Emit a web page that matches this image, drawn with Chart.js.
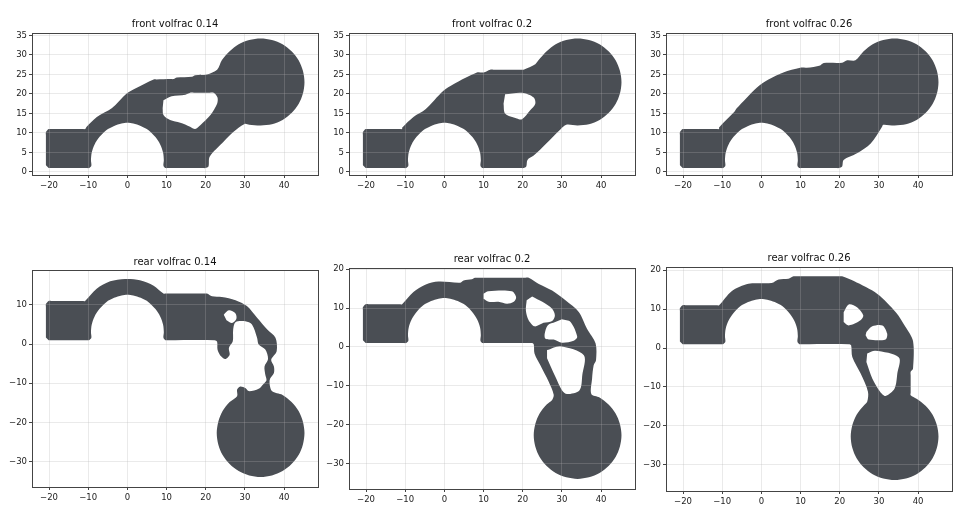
<!DOCTYPE html>
<html>
<head>
<meta charset="utf-8">
<title>volfrac</title>
<script src="https://cdn.jsdelivr.net/npm/chart.js@4"></script>
<style>
  html, body { margin: 0; background: #fff; }
  #wrap { position: relative; width: 960px; height: 521px; overflow: hidden; }
  canvas { position: absolute; }
</style>
</head>
<body>
<div id="wrap"></div>
<script>
const xTicks = [-20, -10, 0, 10, 20, 30, 40];
const frontYTicks = [0, 5, 10, 15, 20, 25, 30, 35];
const rear14YTicks = [-30, -20, -10, 0, 10];
const rearYTicks = [-30, -20, -10, 0, 10, 20];

// pieces every outline shares
const bracket = [[-20.8,1.7],[-20.8,2.3],[-20.8,9.5],[-20.8,10.2],[-20.1,11],[-19.4,11],[-11.5,11],[-10.8,11]];
const archAndBase = [[10.4,1],[9.7,1],[9.2,1.6],[9.3,3],[9.1,5],[8.4,7],[7.1,9],[5.4,10.7],[3.4,11.8],[1.5,12.4],[0,12.6],[-1.5,12.4],[-3.4,11.8],[-5.4,10.7],[-7.1,9],[-8.4,7],[-9.1,5],[-9.3,3],[-9.2,1.6],[-9.8,1],[-10.5,1],[-19.5,1],[-20.1,1]];
const frontCircle = [[26.1,30.9],[28.4,32.7],[31.1,33.8],[34,34.2],[36.9,33.8],[39.6,32.7],[41.9,30.9],[43.7,28.6],[44.8,25.9],[45.2,23],[44.8,20.1],[43.7,17.4],[41.9,15.1],[39.6,13.3],[36.9,12.2],[34,11.9],[31.1,12.1]];
const rearCircle = [[39.6,-13],[41.9,-14.8],[43.7,-17.1],[44.8,-19.8],[45.2,-22.7],[44.8,-25.6],[43.7,-28.3],[41.9,-30.6],[39.6,-32.4],[36.9,-33.5],[34,-33.9],[31.1,-33.5],[28.4,-32.4],[26.1,-30.6],[24.3,-28.3],[23.2,-25.6],[22.8,-22.7],[23.2,-19.8],[24.3,-17.1],[26.1,-14.8]];

// front 0.14
const front14Top = [[-10.4,11.6],[-7.8,14.1],[-4,16.3],[-0.2,20.1],[2.4,21.6],[6.7,23.7],[7.4,23.7],[11.2,23.8],[11.8,23.8],[12.6,24.2],[16.5,24.4],[17.3,24.8],[20.3,25],[22.9,26.2],[24.1,28.6]];
const front14Bottom = [[29.9,12.3],[27.1,10.3],[24.6,7.8],[21,3.9],[20.7,1.4],[19.9,1],[19.2,1]];
const front14Hole = [[9.2,18.4],[11.3,19.4],[14.8,19.8],[16,20.3],[17,20.3],[21,20.3],[22,20.3],[23,19.1],[22.9,17.5],[21.2,14.6],[18.6,12],[17.3,11],[16,11.6],[13.5,12.6],[10.9,13.3],[9.2,14.6],[9,16.3]];

// front 0.2
const front20Top = [[-10.75,11.4],[-7.9,14.1],[-4.9,16],[-0.25,20.8],[2.3,22.5],[8.3,25.5],[10,25.5],[11.7,26.2],[12.5,26.2],[19.4,26.2],[20.2,26.2],[23.2,27.6],[24,28.6]];
const front20Bottom = [[29.6,10.9],[26,7.3],[22.8,4.2],[21.2,3.1],[20.9,1.4],[20.2,1],[19.5,1]];
const front20Hole = [[15.5,19.9],[19.8,20.3],[22.8,19.1],[23.2,17.5],[21.9,15.8],[19.8,13.5],[18.5,13.7],[15.5,15],[15.1,17.5]];

// front 0.26
const front26Top = [[-10.8,11.4],[-6.9,15.4],[-6.3,16.3],[-1.2,21.6],[1.8,23.7],[5.6,25.5],[9.9,26.7],[11.6,26.7],[15,27.3],[15.9,27.9],[20.6,28],[21.9,28.6],[24,28.6]];
const front26Bottom = [[30.8,11.6],[27.9,7.3],[24.4,4.8],[21,3.1],[20.6,1.4],[19.8,1],[19.1,1]];

// rear 0.14
const rear14Top = [[-7.85,14.1],[-4.4,16],[-0.6,16.6],[3.2,16.3],[6.7,14.9],[9.2,12.9],[9.9,12.9],[19.6,12.9],[20.3,12.9],[21.6,12.2],[24.1,12],[27.6,11.2],[30.5,9.7],[33.1,6.7],[35.7,3.7],[37.8,1.6],[38.1,-1.8],[36.7,-4],[37.4,-5.7],[37.4,-7.4],[36.3,-9.2],[36.9,-12]];
const rear14Bottom = [[28,-13.3],[28,-11.6],[28.8,-10.8],[30.1,-11.2],[31,-12],[33.5,-11.4],[34.8,-10.1],[35.5,-9.2],[35.2,-7.8],[35,-5.7],[35.9,-3.8],[35.2,-1.4],[33.5,-0.1],[33.1,1.6],[31.8,5],[30.1,5.8],[27.6,5.6],[27,3.7],[26.9,0.7],[25.9,-1],[26.1,-2.7],[25,-3.8],[23.7,-2.9],[23,-1.4],[22.9,0.6],[22.3,1]];
const rear14Hole = [[24.6,7.5],[25.9,8.6],[27.6,7.8],[27.8,6.4],[26.7,5.4],[25.3,6.1]];

// rear 0.2
const rear20Top = [[-7.9,14.1],[-4.9,16],[-1.5,16.8],[4,16.5],[4.9,17.1],[7,17.4],[7.8,17.8],[8.6,17.8],[20.7,17.8],[21.5,17.8],[24.1,16.2],[27.5,14.5],[30.9,12],[34.3,9],[36.4,4.7],[38.6,0.9],[38.7,-3.4],[38.1,-4.7],[37.7,-8.1],[37.5,-12.1]];
const rear20Bottom = [[27.5,-13.6],[27.9,-12.3],[26.6,-8.9],[24.5,-4.7],[23,-1.7],[22.8,0.7],[22.2,1]];
const rear20HoleA = [[10,13.7],[11.2,14.3],[17.2,14.3],[18.3,12.8],[17.7,11.6],[16,11.1],[13.8,11.6],[11.3,11.6],[10,12.4]];
const rear20HoleB = [[22.4,13],[25,11.6],[27.5,9.8],[28.2,8.1],[27.5,6.7],[25.3,6.2],[23.1,5.3],[21.5,6.9],[20.8,9.4],[21,12]];
const rear20HoleC = [[30,7.1],[32.2,6.4],[33.9,2.6],[33,1.6],[30,1.1],[27.9,1.9],[25.8,2.1],[25.6,3.4],[26.4,5.6],[28.3,6.4]];
const rear20HoleD = [[26.2,-0.8],[29.6,0.2],[35.6,-2.1],[35.2,-7.2],[34.5,-11.1],[31.3,-12.1],[30,-11.1],[28.3,-7.6],[26.2,-2.9]];

// rear 0.26
const rear26Top = [[-7.6,14.6],[-3.3,16.5],[2.6,16.7],[4.4,17.6],[6.9,17.8],[8.2,18.4],[9,18.4],[19.8,18.4],[20.6,18.4],[23.6,17.2],[29.6,13.9],[34.3,9.2],[36.8,5.4],[38.7,1.8],[38.7,-5.3],[38.1,-6.1],[38.1,-7],[38.1,-11.4],[38.1,-12.1]];
const rear26Bottom = [[27,-13.8],[27.2,-11.2],[25.3,-6.5],[23.2,-2.3],[22.9,0.7],[22.3,1]];
const rear26HoleA = [[21,9.2],[22.3,11.2],[24.4,10.5],[26,8.4],[25.3,7.1],[22.3,5.8],[21,6.7]];
const rear26HoleB = [[26.8,4.1],[28.3,5.6],[30.9,5.8],[32.1,3.7],[31.7,2.2],[27.4,2.2],[26.6,3.3]];
const rear26HoleC = [[27,-1.4],[29.1,-0.7],[35.1,-2.4],[34.7,-6.5],[34,-10.4],[31.7,-12.3],[30.3,-11.2],[28.3,-7.8],[26.8,-3.6]];

const solid = "#4a4e54";
const gridColor = "rgba(176,176,176,0.27)";
const textColor = "#222";

const panels = [
  { title: "front volfrac 0.14", titleTop: 5.6, left: 32, top: 33, h: 142, yMin: -0.77, yMax: 35.6, yTicks: frontYTicks,
    outline: [...bracket, ...front14Top, ...frontCircle, ...front14Bottom, ...archAndBase], holes: [front14Hole] },
  { title: "front volfrac 0.2", titleTop: 5.6, left: 349, top: 33, h: 142, yMin: -0.77, yMax: 35.6, yTicks: frontYTicks,
    outline: [...bracket, ...front20Top, ...frontCircle, ...front20Bottom, ...archAndBase], holes: [front20Hole] },
  { title: "front volfrac 0.26", titleTop: 5.6, left: 666, top: 33, h: 142, yMin: -0.77, yMax: 35.6, yTicks: frontYTicks,
    outline: [...bracket, ...front26Top, ...frontCircle, ...front26Bottom, ...archAndBase], holes: [] },
  { title: "rear volfrac 0.14", titleTop: 6.6, left: 32, top: 270, h: 217, yMin: -36.46, yMax: 18.9, yTicks: rear14YTicks,
    outline: [...bracket, ...rear14Top, ...rearCircle, ...rear14Bottom, ...archAndBase], holes: [rear14Hole] },
  { title: "rear volfrac 0.2", titleTop: 5.6, left: 349, top: 268, h: 221, yMin: -36.5, yMax: 20.3, yTicks: rearYTicks,
    outline: [...bracket, ...rear20Top, ...rearCircle, ...rear20Bottom, ...archAndBase], holes: [rear20HoleA, rear20HoleB, rear20HoleC, rear20HoleD] },
  { title: "rear volfrac 0.26", titleTop: 5.6, left: 666, top: 267, h: 224, yMin: -36.7, yMax: 20.8, yTicks: rearYTicks,
    outline: [...bracket, ...rear26Top, ...rearCircle, ...rear26Bottom, ...archAndBase], holes: [rear26HoleA, rear26HoleB, rear26HoleC] }
];

const frame = {
  id: "frame",
  afterDraw(chart) {
    const a = chart.chartArea;
    const ctx = chart.ctx;
    ctx.save();
    ctx.strokeStyle = "#444";
    ctx.lineWidth = 1;
    ctx.strokeRect(Math.round(a.left) + 0.5, Math.round(a.top) + 0.5, Math.round(a.width), Math.round(a.height));
    ctx.restore();
  }
};

function shape(points, color, order) {
  return {
    data: points.map(p => ({ x: p[0], y: p[1] })),
    showLine: true,
    fill: "shape",
    backgroundColor: color,
    borderWidth: 0,
    pointRadius: 0,
    tension: 0.3,
    order: order
  };
}

function label(v) {
  return v < 0 ? "\u2212" + Math.abs(v) : String(v);
}

panels.forEach(p => {
  const canvas = document.createElement("canvas");
  canvas.width = 324;
  canvas.height = p.h + 20 + 22;
  canvas.style.left = (p.left - 32) + "px";
  canvas.style.top = (p.top - 20) + "px";
  document.getElementById("wrap").appendChild(canvas);

  new Chart(canvas, {
    type: "scatter",
    data: {
      datasets: [
        ...p.holes.map(h => shape(h, "#fff", 0)),
        shape(p.outline, solid, 1)
      ]
    },
    options: {
      responsive: false,
      animation: false,
      layout: { padding: { left: 0, right: 6, top: 0, bottom: 0 } },
      plugins: {
        legend: { display: false },
        tooltip: { enabled: false },
        title: {
          display: true,
          text: p.title,
          fullSize: false,
          color: "#111",
          font: { family: "DejaVu Sans", size: 10, weight: "normal" },
          padding: { top: p.titleTop, bottom: 8 - p.titleTop }
        }
      },
      scales: {
        x: {
          type: "linear",
          min: -24.35,
          max: 48.65,
          afterBuildTicks: s => { s.ticks = xTicks.map(v => ({ value: v })); },
          afterFit: s => { s.height = 22; },
          border: { display: false },
          grid: { color: gridColor, z: 1, tickLength: 3, tickColor: "#444" },
          ticks: { color: textColor, font: { family: "DejaVu Sans", size: 8.5 }, padding: 3, maxRotation: 0, callback: label }
        },
        y: {
          type: "linear",
          min: p.yMin,
          max: p.yMax,
          afterBuildTicks: s => { s.ticks = p.yTicks.map(v => ({ value: v })); },
          afterFit: s => { s.width = 32; },
          border: { display: false },
          grid: { color: gridColor, z: 1, tickLength: 3, tickColor: "#444" },
          ticks: { color: textColor, font: { family: "DejaVu Sans", size: 8.5 }, padding: 2, callback: label }
        }
      }
    },
    plugins: [frame]
  });
});
</script>
</body>
</html>
